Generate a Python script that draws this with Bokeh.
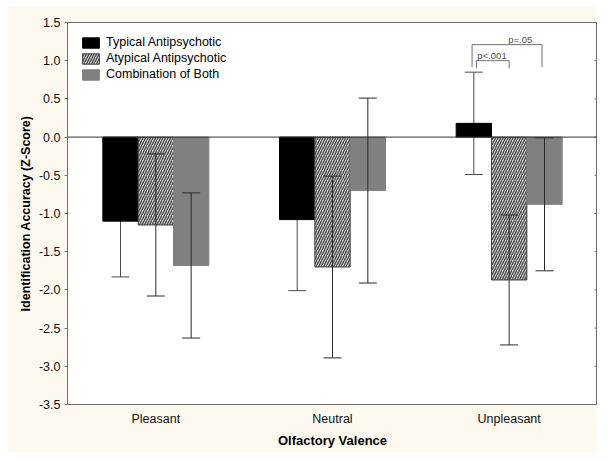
from bokeh.plotting import figure
from bokeh.models import (ColumnDataSource, FactorRange, Range1d, Whisker, TeeHead, Span,
                          Legend, LegendItem, FixedTicker, NumeralTickFormatter)
from bokeh.transform import dodge
from bokeh.core.properties import value
from bokeh.embed import file_html
from bokeh.resources import INLINE

# ---- data ----
categories = ["Pleasant", "Neutral", "Unpleasant"]
series_names = ["Typical Antipsychotic", "Atypical Antipsychotic", "Combination of Both"]
typical_mean = [-1.10, -1.08, 0.18]
typical_err = [0.73, 0.93, 0.67]
atypical_mean = [-1.15, -1.70, -1.87]
atypical_err = [0.93, 1.19, 0.85]
combo_mean = [-1.68, -0.70, -0.88]
combo_err = [0.95, 1.21, 0.87]
yticks = [-3.5, -3.0, -2.5, -2.0, -1.5, -1.0, -0.5, 0.0, 0.5, 1.0, 1.5]

# significance brackets (Unpleasant group)
bracket_labels = ["p=.05", "p<.001"]
bracket_cat = ["Unpleasant", "Unpleasant"]
bracket_left = [-0.21, -0.185]
bracket_right = [0.186, 0.0]
bracket_top = [1.21, 1.00]
bracket_bottom = [0.915, 0.90]
bracket_text_x = [-0.005, -0.18]

FONT = "Liberation Sans"
CREAM = "#fdf9ef"

p = figure(x_range=FactorRange(factors=categories, range_padding=0),
           y_range=Range1d(-3.5, 1.5),
           frame_width=530, frame_height=382,
           min_border_left=60, min_border_top=17, min_border_right=0, min_border_bottom=48,
           output_backend="svg", toolbar_location=None,
           background_fill_color="white", border_fill_color=CREAM)
p.margin = (5, 4, 4, 7)
p.xgrid.visible = False
p.ygrid.visible = False
p.outline_line_color = "#707070"

offsets = [-0.2, 0.0, 0.2]
means = [typical_mean, atypical_mean, combo_mean]
errs = [typical_err, atypical_err, combo_err]
styles = [
    dict(fill_color="black", line_color="black"),
    dict(fill_color="#d4d4d4", line_color="#404040", hatch_pattern="right_diagonal_line",
         hatch_color="#474747", hatch_scale=5, hatch_weight=1.3),
    dict(fill_color="#808080", line_color="#808080"),
]
whisker_levels = ["underlay", "annotation", "annotation"]
whisker_colors = ["#4a4a4a", "#2a2a2a", "#2a2a2a"]

renderers = []
sources = []
for off, m, e, st in zip(offsets, means, errs, styles):
    src = ColumnDataSource(dict(cat=categories, val=m,
                                upper=[a + b for a, b in zip(m, e)],
                                lower=[a - b for a, b in zip(m, e)]))
    sources.append(src)
    r = p.vbar(x=dodge("cat", off, range=p.x_range), top="val", bottom=0, width=0.2,
               source=src, line_width=1, **st)
    renderers.append(r)

for off, src, lvl, col in zip(offsets, sources, whisker_levels, whisker_colors):
    w = Whisker(source=src, base=dodge("cat", off, range=p.x_range), upper="upper", lower="lower",
                line_color=col, line_width=1, level=lvl,
                upper_head=TeeHead(size=18, line_color=col, line_width=1),
                lower_head=TeeHead(size=18, line_color=col, line_width=1))
    p.add_layout(w)

p.add_layout(Span(location=0, dimension="width", line_color="#303030", line_width=1))

# inward tick marks on the right frame edge
p.scatter(x=[len(categories)] * len(yticks), y=yticks, marker="dash", size=6,
          line_color="#707070", line_width=1)

# brackets
bxs, bys, tx, ty = [], [], [], []
for c, l, r_, t, b, txo in zip(bracket_cat, bracket_left, bracket_right, bracket_top,
                               bracket_bottom, bracket_text_x):
    base = categories.index(c) + 0.5
    bxs.append([base + l, base + l, base + r_, base + r_])
    bys.append([b, t, t, b])
    tx.append(base + txo)
    ty.append(t)
p.multi_line(xs=bxs, ys=bys, line_color="#707070", line_width=1)
p.text(x=tx, y=ty, text=bracket_labels, text_font=value(FONT), text_font_size="9.5px",
       text_color="#505050", text_baseline="alphabetic", y_offset=-5)

# axes
yl = p.yaxis[0]
yl.ticker = FixedTicker(ticks=yticks)
yl.formatter = NumeralTickFormatter(format="0.0")
yl.axis_label = "Identification Accuracy (Z-Score)"
yl.axis_label_text_font = FONT
yl.axis_label_text_font_style = "bold"
yl.axis_label_text_font_size = "12.5px"
yl.axis_label_text_color = "black"
yl.axis_label_standoff = 3
yl.major_label_text_font = FONT
yl.major_label_text_font_size = "12.5px"
yl.major_label_text_color = "#111111"
yl.major_label_standoff = 4
yl.major_tick_out = 3
yl.major_tick_in = 0
yl.minor_tick_out = 0
yl.minor_tick_in = 0
yl.axis_line_color = "#707070"
yl.major_tick_line_color = "#707070"

xb = p.xaxis[0]
xb.axis_label = "Olfactory Valence"
xb.axis_label_text_font = FONT
xb.axis_label_text_font_style = "bold"
xb.axis_label_text_font_size = "13px"
xb.axis_label_text_color = "black"
xb.axis_label_standoff = 4
xb.major_label_text_font = FONT
xb.major_label_text_font_size = "12.5px"
xb.major_label_text_color = "#111111"
xb.major_label_standoff = 7
xb.major_tick_out = 0
xb.major_tick_in = 0
xb.axis_line_color = "#707070"

legend = Legend(items=[LegendItem(label=n, renderers=[r]) for n, r in zip(series_names, renderers)],
                location="top_left", margin=13, padding=0, spacing=2,
                glyph_width=21, glyph_height=13, label_height=13, label_standoff=5,
                label_text_font=FONT, label_text_font_size="12.5px", label_text_color="black",
                border_line_color=None, background_fill_alpha=0)
p.add_layout(legend)

open("out.html", "w").write(file_html(p, INLINE))
